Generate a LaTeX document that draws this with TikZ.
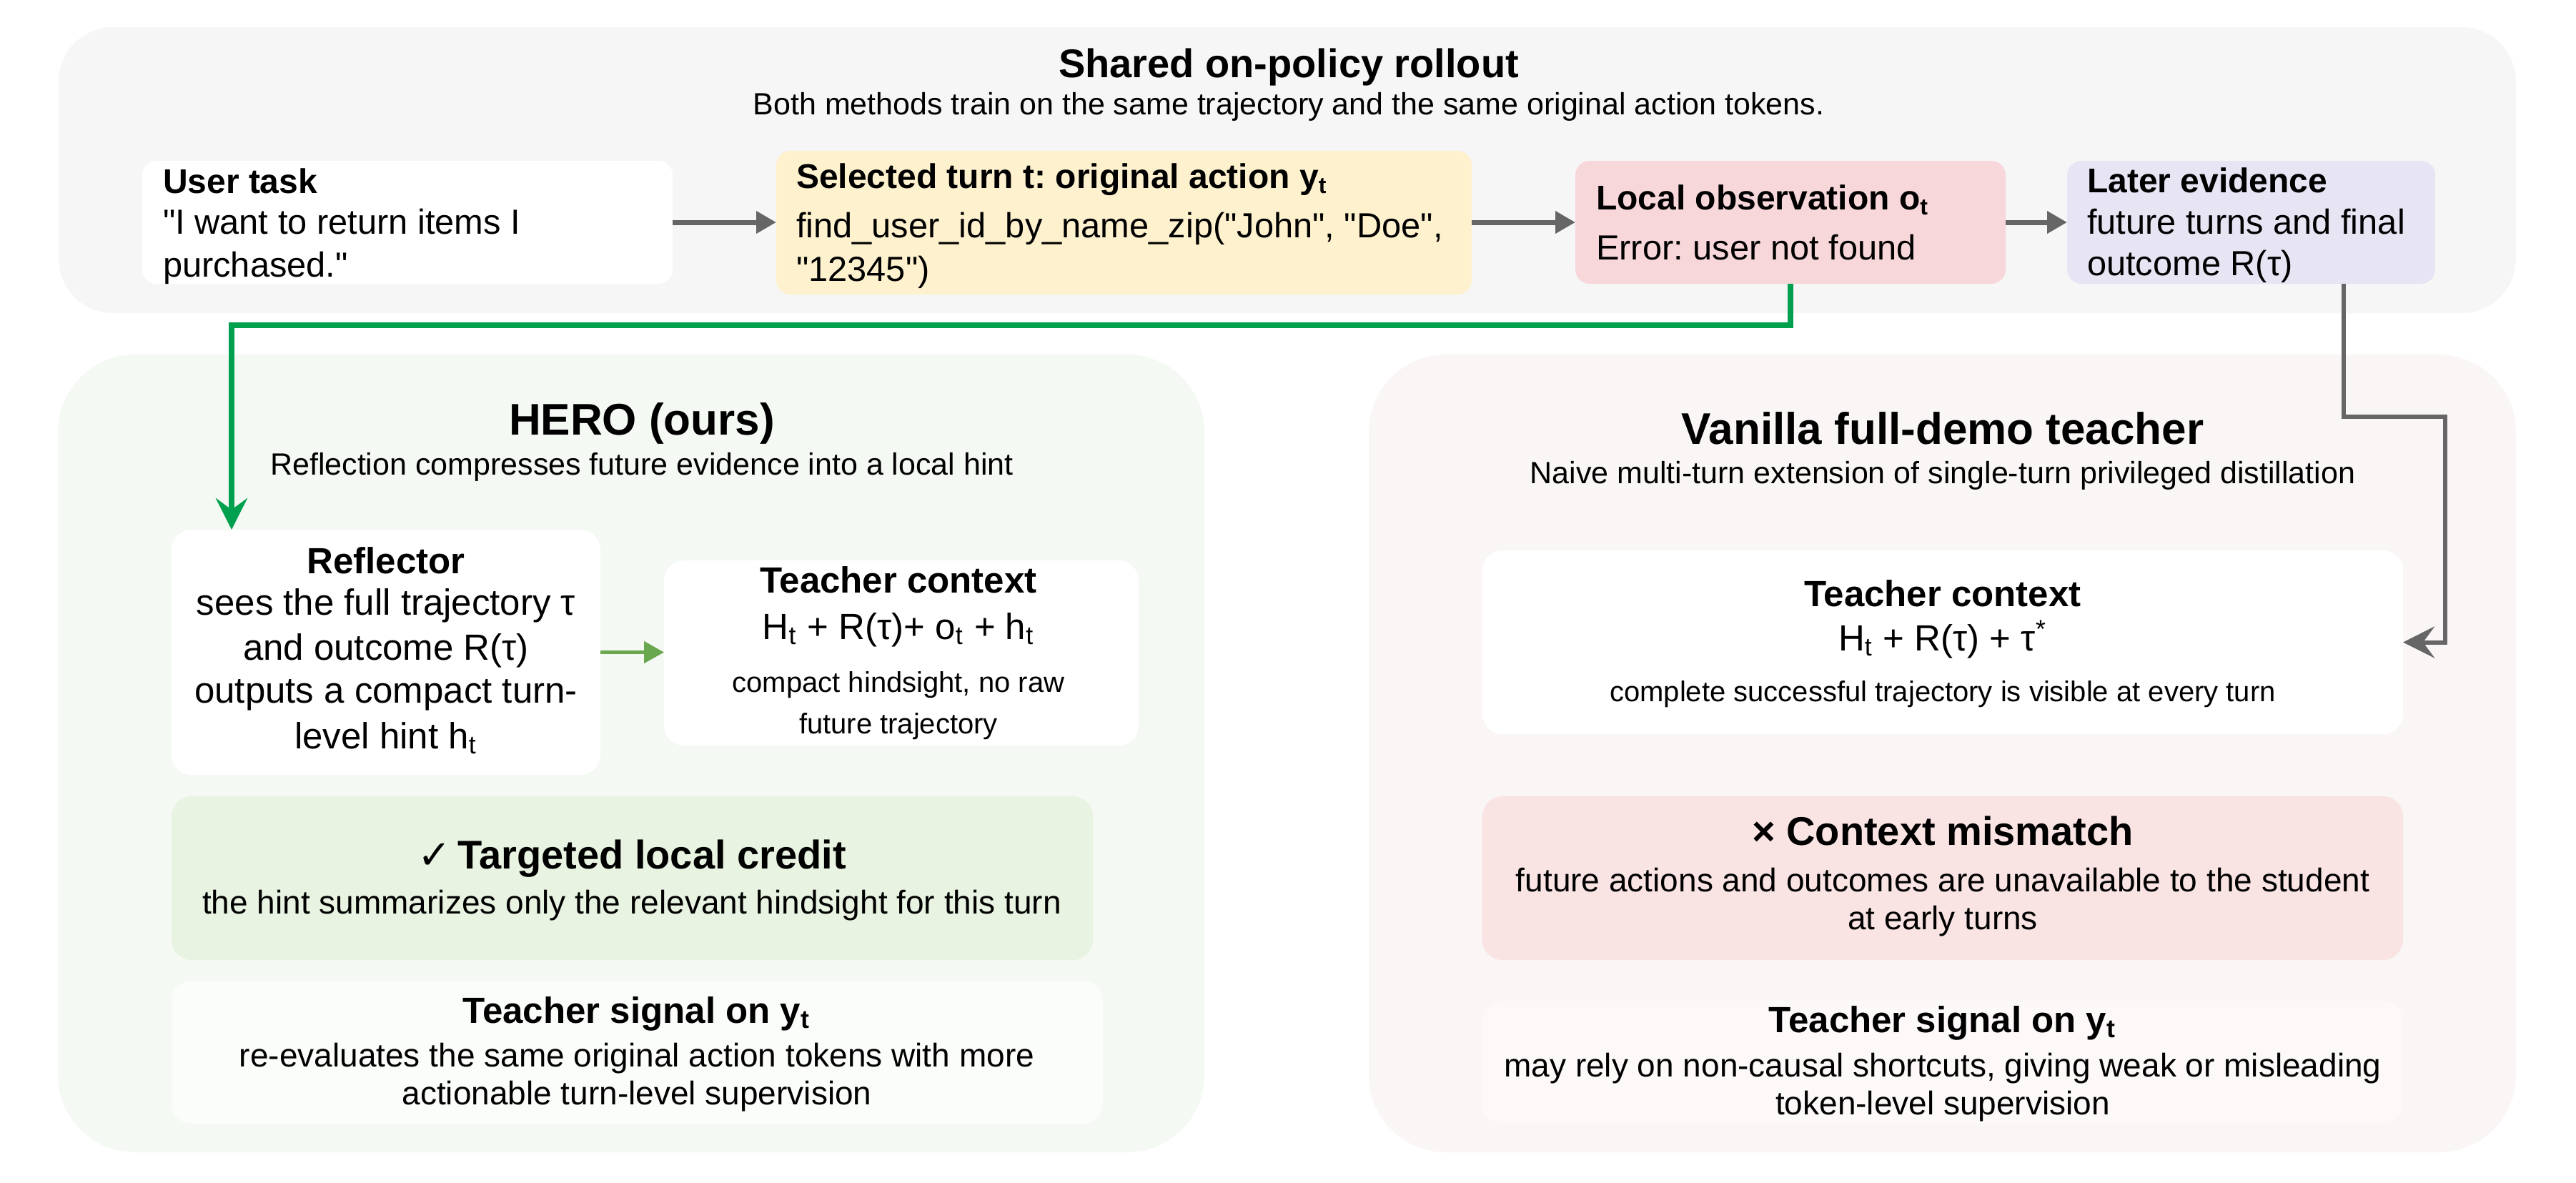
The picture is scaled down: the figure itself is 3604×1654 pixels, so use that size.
\documentclass[tikz,border=0pt]{standalone}
\usepackage{fontspec}
\setmainfont{Liberation Sans}[Ligatures=TeXOff]
\newfontfamily\symfont{DejaVu Sans}
\usetikzlibrary{fit,arrows.meta}
\definecolor{toppanel}{HTML}{F6F6F6}
\definecolor{heropanel}{HTML}{F4F9F3}
\definecolor{vanpanel}{HTML}{FAF6F5}
\definecolor{selfill}{HTML}{FEF1CE}
\definecolor{obsfill}{HTML}{F8D7DA}
\definecolor{laterfill}{HTML}{E7E4F4}
\definecolor{creditfill}{HTML}{E8F3E2}
\definecolor{herosig}{HTML}{FBFDFA}
\definecolor{mismatchfill}{HTML}{F9E3E3}
\definecolor{vansig}{HTML}{FDF9F9}
\definecolor{arrowgray}{HTML}{666666}
\definecolor{linkgreen}{HTML}{00A04E}
\definecolor{hintgreen}{HTML}{6AA84F}
\frenchspacing
\begin{document}
\begin{tikzpicture}[x=0.25pt,y=-0.25pt,
  panelbox/.style={inner sep=0pt, outer sep=0pt, rounded corners=24pt, draw=none},
  cardbox/.style={inner sep=0pt, outer sep=0pt, rounded corners=5pt, draw=none},
  lowcard/.style={inner sep=0pt, outer sep=0pt, rounded corners=7pt, draw=none},
  tx/.style={inner sep=0pt, outer sep=0pt},
  maintitle/.style={tx, anchor=base, font=\fontsize{14pt}{16pt}\selectfont\bfseries},
  paneltitle/.style={tx, anchor=base, font=\fontsize{15.5pt}{18pt}\selectfont\bfseries},
  subtitle/.style={tx, anchor=base, font=\fontsize{10.75pt}{13pt}\selectfont},
  tophead/.style={tx, anchor=base west, font=\fontsize{12pt}{14pt}\selectfont\bfseries},
  topbody/.style={tx, anchor=base west, font=\fontsize{12.2pt}{14pt}\selectfont},
  lowhead/.style={tx, anchor=base, font=\fontsize{12.75pt}{15pt}\selectfont\bfseries},
  lowbody/.style={tx, anchor=base, font=\fontsize{12.75pt}{15pt}\selectfont},
  emphhead/.style={tx, anchor=base, font=\fontsize{14pt}{16pt}\selectfont\bfseries},
  cardbody/.style={tx, anchor=base, font=\fontsize{11.5pt}{14pt}\selectfont},
  smallnote/.style={tx, anchor=base, font=\fontsize{10pt}{12pt}\selectfont},
  flowarrow/.style={draw=arrowgray, line width=1.75pt, -{Triangle[length=7pt,width=7.5pt]}},
  greenlink/.style={draw=linkgreen, line width=2pt, -{Stealth[length=11pt,width=11pt,inset=4pt]}},
  graylink/.style={draw=arrowgray, line width=1.5pt, -{Stealth[length=11pt,width=11pt,inset=4pt]}},
  hintarrow/.style={draw=hintgreen, line width=1.25pt, -{Triangle[length=7pt,width=7.5pt]}}
]
\useasboundingbox (0,0) rectangle (3604,1654);
\fill[white] (0,0) rectangle (3604,1654);

% ---------- panels ----------
\node[panelbox, rounded corners=19pt, fill=toppanel, fit={(82,38) (3520,438)}] (top) {};
\node[panelbox, rounded corners=27pt, fill=heropanel, fit={(81,496) (1685,1612)}] (hero) {};
\node[panelbox, rounded corners=27pt, fill=vanpanel, fit={(1915,496) (3520,1612)}] (van) {};

% ---------- top row ----------
\node[maintitle] (toptitle) at (1803,108) {Shared on-policy rollout};
\node[subtitle] (topsub) at (1803,160) {Both methods train on the same trajectory and the same original action tokens.};

\node[cardbox, fill=white, fit={(199,225) (941,397)}] (user) {};
\node[tophead] (user1) at (228,270) {User task};
\node[topbody] (user2) at (228,327) {"I want to return items I};
\node[topbody] (user3) at (228,387) {purchased."};

\node[cardbox, fill=selfill, fit={(1086,211) (2059,412)}] (sel) {};
\node[tophead] (sel1) at (1114,263) {Selected turn t: original action y\textsubscript{t}};
\node[topbody] (sel2) at (1114,332) {find\_user\_id\_by\_name\_zip("John", "Doe",};
\node[topbody] (sel3) at (1114,393) {"12345")};

\node[cardbox, fill=obsfill, fit={(2204,225) (2806,397)}] (obs) {};
\node[tophead] (obs1) at (2233,293) {Local observation o\textsubscript{t}};
\node[topbody] (obs2) at (2233,363) {Error: user not found};

\node[cardbox, fill=laterfill, fit={(2892,225) (3407,397)}] (later) {};
\node[tophead] (later1) at (2920,269) {Later evidence};
\node[topbody] (later2) at (2920,327) {future turns and final};
\node[topbody] (later3) at (2920,385) {outcome R(τ)};

% ---------- HERO panel ----------
\node[paneltitle] (herotitle) at (898,608) {HERO (ours)};
\node[subtitle] (herosub) at (898,664) {Reflection compresses future evidence into a local hint};

\node[lowcard, fill=white, fit={(240,741) (840,1084)}] (refl) {};
\node[lowhead] (refl1) at (540,802) {Reflector};
\node[lowbody] (refl2) at (540,860) {sees the full trajectory τ};
\node[lowbody] (refl3) at (540,923) {and outcome R(τ)};
\node[lowbody] (refl4) at (540,983) {outputs a compact turn-};
\node[lowbody] (refl5) at (540,1047) {level hint h\textsubscript{t}};

\node[lowcard, fill=white, fit={(929,784) (1593,1043)}] (hctx) {};
\node[lowhead] (hctx1) at (1257,829) {Teacher context};
\node[lowbody] (hctx2) at (1257,894) {H\textsubscript{t} + R(τ)+ o\textsubscript{t} + h\textsubscript{t}};
\node[smallnote] (hctx3) at (1257,968) {compact hindsight, no raw};
\node[smallnote] (hctx4) at (1257,1026) {future trajectory};

\node[lowcard, fill=creditfill, fit={(240,1114) (1529,1343)}] (credit) {};
\node[emphhead] (credit1) at (884,1215) {{\symfont ✓}\,Targeted local credit};
\node[cardbody] (credit2) at (884,1278) {the hint summarizes only the relevant hindsight for this turn};

\node[lowcard, fill=herosig, fit={(240,1372) (1543,1572)}] (hsig) {};
\node[lowhead] (hsig1) at (891,1431) {Teacher signal on y\textsubscript{t}};
\node[cardbody] (hsig2) at (891,1492) {re-evaluates the same original action tokens with more};
\node[cardbody] (hsig3) at (891,1545) {actionable turn-level supervision};

% ---------- Vanilla panel ----------
\node[paneltitle] (vantitle) at (2718,621) {Vanilla full-demo teacher};
\node[subtitle] (vansub) at (2718,676) {Naive multi-turn extension of single-turn privileged distillation};

\node[lowcard, fill=white, fit={(2074,770) (3362,1027)}] (vctx) {};
\node[lowhead] (vctx1) at (2718,848) {Teacher context};
\node[lowbody] (vctx2) at (2718,910) {H\textsubscript{t} + R(τ) + τ\textsuperscript{*}};
\node[smallnote] (vctx3) at (2718,981) {complete successful trajectory is visible at every turn};

\node[lowcard, fill=mismatchfill, fit={(2074,1114) (3362,1343)}] (mism) {};
\node[emphhead] (mism1) at (2718,1182) {× Context mismatch};
\node[cardbody] (mism2) at (2718,1247) {future actions and outcomes are unavailable to the student};
\node[cardbody] (mism3) at (2718,1300) {at early turns};

\node[lowcard, fill=vansig, fit={(2074,1400) (3362,1572)}] (vsig) {};
\node[lowhead] (vsig1) at (2718,1444) {Teacher signal on y\textsubscript{t}};
\node[cardbody] (vsig2) at (2718,1506) {may rely on non-causal shortcuts, giving weak or misleading};
\node[cardbody] (vsig3) at (2718,1559) {token-level supervision};

% ---------- connectors ----------
\draw[flowarrow] (user.east) -- (sel.west |- user.east);
\draw[flowarrow] (sel.east |- obs.west) -- (obs.west);
\draw[flowarrow] (obs.east) -- (later.west);

\coordinate (gbend) at (324,455);
\draw[greenlink] (obs.south) |- (gbend) -- (gbend |- refl.north);

\coordinate (gstart) at (3279,583);
\coordinate (gturn) at (3421,583);
\draw[graylink] (gstart |- later.south) -- (gstart) -- (gturn) |- (vctx.east);

\draw[hintarrow] (refl.east) -- (hctx.west |- refl.east);
\end{tikzpicture}
\end{document}
